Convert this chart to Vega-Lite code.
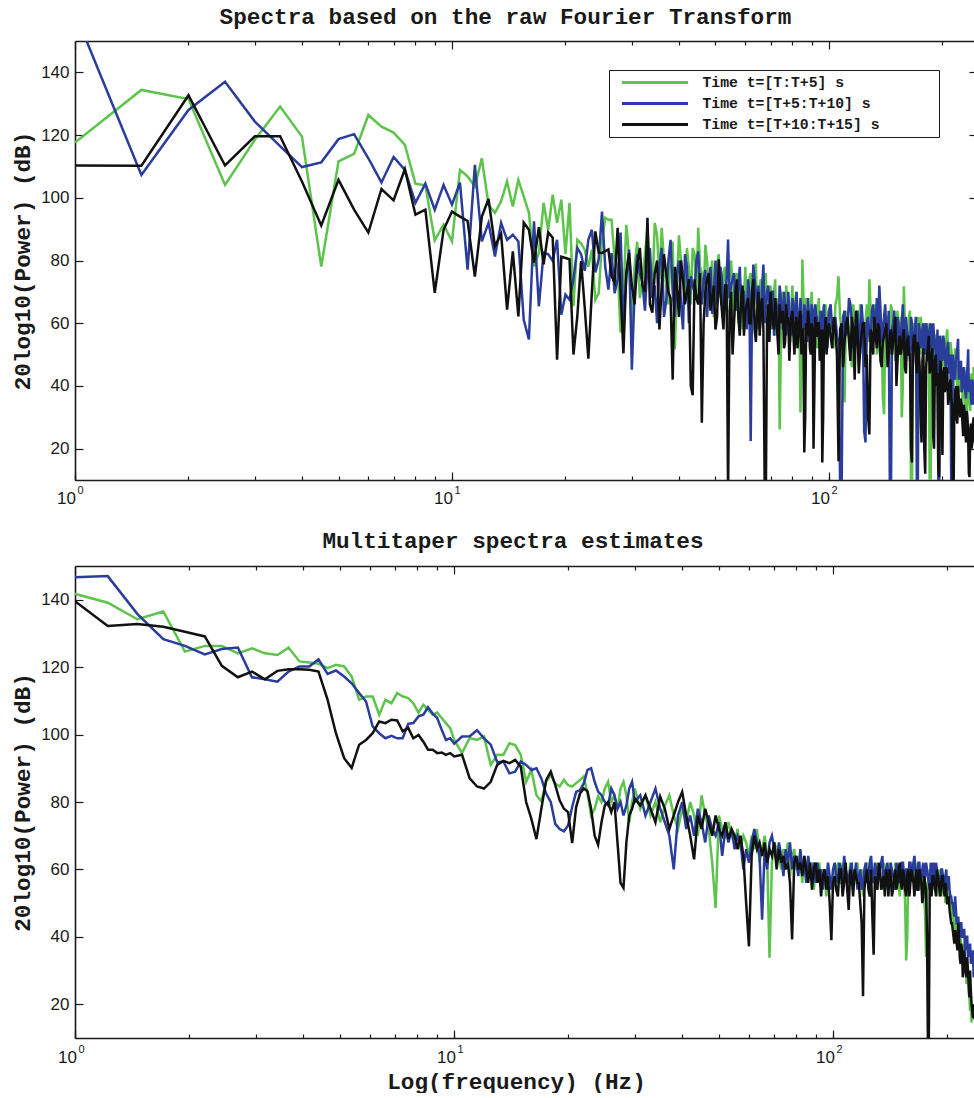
{
  "$schema": "https://vega.github.io/schema/vega-lite/v6.json",
  "background": "white",
  "padding": {"left": 11, "top": 5, "right": 0, "bottom": 0},
  "bounds": "flush",
  "spacing": 86,
  "config": {
    "view": {"stroke": null},
    "font": "Liberation Sans",
    "axis": {
      "grid": false,
      "domainColor": "#1a1a1a",
      "domainWidth": 1.6,
      "tickColor": "#1a1a1a",
      "tickWidth": 1.2,
      "labelFont": "Liberation Sans",
      "labelFontSize": 17,
      "labelColor": "#1a1a1a",
      "labelFlush": false,
      "labelOverlap": false,
      "titleFont": "Liberation Mono",
      "titleFontSize": 22.7,
      "titleFontWeight": "bold",
      "titleColor": "#1a1a1a"
    },
    "title": {
      "font": "Liberation Mono",
      "fontSize": 22.7,
      "fontWeight": "bold",
      "color": "#1a1a1a",
      "anchor": "middle",
      "frame": "group",
      "baseline": "alphabetic"
    }
  },
  "datasets": {
    "raw": [
      {"f":1,"g":117.6,"b":159,"k":110.3},
      {"f":1.5,"g":134.4,"b":107.3,"k":110.2},
      {"f":2,"g":131.5,"b":128,"k":132.7},
      {"f":2.5,"g":104.1,"b":137,"k":110.3},
      {"f":3,"g":118.5,"b":124.3,"k":119.6},
      {"f":3.5,"g":129.1,"b":116.5,"k":119.6},
      {"f":4,"g":119.5,"b":109.8,"k":105.2},
      {"f":4.5,"g":78.1,"b":111.3,"k":91.2},
      {"f":5,"g":111.6,"b":118.7,"k":105.7},
      {"f":5.5,"g":114,"b":120.3,"k":96.2},
      {"f":6,"g":126.4,"b":112.6,"k":88.9},
      {"f":6.5,"g":122.7,"b":104.9,"k":102.8},
      {"f":7,"g":120.8,"b":113,"k":99.2},
      {"f":7.5,"g":116.9,"b":108.9,"k":109.1},
      {"f":8,"g":104.5,"b":98.4,"k":94.6},
      {"f":8.5,"g":104,"b":104.5,"k":96.2},
      {"f":9,"g":86.4,"b":96.2,"k":69.7},
      {"f":9.5,"g":91.4,"b":104.1,"k":89.8},
      {"f":10,"g":86.1,"b":97.8,"k":95.6},
      {"f":10.5,"g":108.9,"b":104.8,"k":94},
      {"f":11,"g":106.8,"b":77.1,"k":92.6},
      {"f":11.5,"g":103.6,"b":110.5,"k":74.9},
      {"f":12,"g":112.6,"b":86.1,"k":94},
      {"f":12.5,"g":97.8,"b":92,"k":99.6},
      {"f":13,"g":95.2,"b":81.3,"k":84.5},
      {"f":13.5,"g":98.9,"b":92,"k":88.5},
      {"f":14,"g":105.2,"b":86.6,"k":64.3},
      {"f":14.5,"g":97.2,"b":88.2,"k":82.9},
      {"f":15,"g":105.7,"b":86.1,"k":62.2},
      {"f":15.5,"g":100.4,"b":61.1,"k":92.1},
      {"f":16,"g":95.2,"b":54.8,"k":89.8},
      {"f":16.5,"g":78.1,"b":92.5,"k":79.3},
      {"f":17,"g":82.4,"b":65.4,"k":90.6},
      {"f":17.5,"g":98.4,"b":82.5,"k":78.8},
      {"f":18,"g":89.8,"b":82,"k":89},
      {"f":18.5,"g":101,"b":79.9,"k":87.3},
      {"f":19,"g":92,"b":86.6,"k":48.4},
      {"f":19.5,"g":99.4,"b":62.7,"k":81.2},
      {"f":20,"g":82,"b":69.1,"k":80.8},
      {"f":20.5,"g":98.4,"b":67.5,"k":80.4},
      {"f":21,"g":65.4,"b":74,"k":50},
      {"f":21.5,"g":86.6,"b":84,"k":62.2},
      {"f":22,"g":85.5,"b":82,"k":79.8},
      {"f":22.5,"g":83.4,"b":76.7,"k":65},
      {"f":23,"g":78,"b":86.6,"k":48.7},
      {"f":23.5,"g":83.4,"b":89.8,"k":70},
      {"f":24,"g":67.5,"b":76.2,"k":89.3},
      {"f":24.5,"g":69.6,"b":80.4,"k":82.5},
      {"f":25,"g":86,"b":95.6,"k":82.4},
      {"f":25.5,"g":93.6,"b":78,"k":83},
      {"f":26,"g":93,"b":70.7,"k":83.5},
      {"f":26.5,"g":93,"b":82.4,"k":75},
      {"f":27,"g":80.4,"b":69.6,"k":73},
      {"f":27.5,"g":78,"b":74,"k":90.4},
      {"f":28,"g":57,"b":88.9,"k":70},
      {"f":28.5,"g":69.6,"b":59,"k":50.4},
      {"f":29,"g":91.4,"b":75,"k":76},
      {"f":29.5,"g":81.3,"b":83.5,"k":82.4},
      {"f":30,"g":57,"b":45.2,"k":72},
      {"f":30.5,"g":78,"b":70,"k":66},
      {"f":31,"g":86,"b":82,"k":78.8},
      {"f":31.5,"g":68,"b":76,"k":84},
      {"f":32,"g":74,"b":73,"k":72},
      {"f":32.5,"g":82,"b":64,"k":70},
      {"f":33,"g":90,"b":79,"k":93.6},
      {"f":33.5,"g":76,"b":84,"k":66},
      {"f":34,"g":70,"b":68,"k":63.4},
      {"f":34.5,"g":92,"b":72,"k":76},
      {"f":35,"g":88,"b":60,"k":80},
      {"f":35.5,"g":74,"b":78,"k":58},
      {"f":36,"g":90.4,"b":84,"k":72},
      {"f":36.5,"g":80,"b":62,"k":82},
      {"f":37,"g":72,"b":67,"k":76},
      {"f":37.5,"g":66,"b":80,"k":70},
      {"f":38,"g":84,"b":86.6,"k":68},
      {"f":38.5,"g":86,"b":70,"k":42},
      {"f":39,"g":51.6,"b":62,"k":78},
      {"f":39.5,"g":72,"b":76,"k":72},
      {"f":40,"g":88,"b":80,"k":62},
      {"f":40.5,"g":80,"b":66,"k":80},
      {"f":41,"g":74,"b":58,"k":74},
      {"f":41.5,"g":68,"b":82,"k":66},
      {"f":42,"g":84,"b":78,"k":70},
      {"f":42.5,"g":78,"b":60,"k":74},
      {"f":43,"g":66,"b":75,"k":40},
      {"f":43.5,"g":84,"b":72,"k":37},
      {"f":44,"g":82,"b":70,"k":74},
      {"f":44.5,"g":70,"b":80,"k":68},
      {"f":45,"g":90.4,"b":82.9,"k":66},
      {"f":45.5,"g":78,"b":70,"k":76},
      {"f":46,"g":76,"b":66,"k":28.3},
      {"f":46.5,"g":68,"b":74,"k":60},
      {"f":47,"g":85,"b":77,"k":70},
      {"f":47.5,"g":80,"b":62,"k":74},
      {"f":48,"g":70,"b":72,"k":76},
      {"f":48.5,"g":74,"b":78,"k":64},
      {"f":49,"g":80,"b":63,"k":68},
      {"f":49.5,"g":62,"b":70,"k":72},
      {"f":50,"g":74,"b":80,"k":58},
      {"f":50.5,"g":78,"b":66,"k":62},
      {"f":51,"g":82,"b":70,"k":80.4},
      {"f":51.5,"g":70,"b":78,"k":70},
      {"f":52,"g":66,"b":74,"k":64},
      {"f":52.5,"g":76,"b":62,"k":58},
      {"f":53,"g":78,"b":68,"k":72},
      {"f":53.5,"g":64,"b":74,"k":72},
      {"f":54,"g":70,"b":86.7,"k":5},
      {"f":54.5,"g":76,"b":68,"k":64},
      {"f":55,"g":80,"b":72,"k":70},
      {"f":55.5,"g":70,"b":74,"k":50},
      {"f":56,"g":62,"b":76,"k":60},
      {"f":56.5,"g":74,"b":64,"k":70},
      {"f":57,"g":76,"b":66,"k":74},
      {"f":57.5,"g":60,"b":72,"k":62},
      {"f":58,"g":72,"b":78,"k":56},
      {"f":58.5,"g":72,"b":66,"k":68},
      {"f":59,"g":58,"b":70,"k":72},
      {"f":59.5,"g":68,"b":70,"k":56},
      {"f":60,"g":78,"b":62,"k":64},
      {"f":60.5,"g":64,"b":58,"k":66},
      {"f":61,"g":70,"b":74,"k":68},
      {"f":61.5,"g":74,"b":70,"k":60},
      {"f":62,"g":76,"b":22.4,"k":60},
      {"f":62.5,"g":66,"b":64,"k":70},
      {"f":63,"g":66,"b":78.7,"k":74},
      {"f":63.5,"g":70,"b":74,"k":58},
      {"f":64,"g":79,"b":70,"k":54},
      {"f":64.5,"g":58,"b":66,"k":64},
      {"f":65,"g":60,"b":72,"k":70},
      {"f":65.5,"g":72,"b":58,"k":56},
      {"f":66,"g":74,"b":62,"k":66},
      {"f":66.5,"g":64,"b":72,"k":68},
      {"f":67,"g":68,"b":78.7,"k":58},
      {"f":67.5,"g":70,"b":60,"k":10},
      {"f":68,"g":76,"b":66,"k":3},
      {"f":68.5,"g":60,"b":70,"k":60},
      {"f":69,"g":64,"b":72,"k":66},
      {"f":69.5,"g":68,"b":64,"k":54},
      {"f":70,"g":72,"b":58,"k":70},
      {"f":70.5,"g":62,"b":70,"k":64},
      {"f":71,"g":58,"b":70,"k":60},
      {"f":71.5,"g":70,"b":56,"k":58},
      {"f":72,"g":74,"b":68,"k":68},
      {"f":72.5,"g":56,"b":66,"k":62},
      {"f":73,"g":66,"b":60,"k":56},
      {"f":73.5,"g":68,"b":62,"k":50},
      {"f":74,"g":26.1,"b":72,"k":66},
      {"f":74.5,"g":50,"b":68,"k":60},
      {"f":75,"g":70,"b":64,"k":62},
      {"f":75.5,"g":66,"b":58,"k":64},
      {"f":76,"g":62,"b":70,"k":52},
      {"f":76.5,"g":58,"b":66,"k":54},
      {"f":77,"g":72,"b":56,"k":66},
      {"f":77.5,"g":68,"b":60,"k":60},
      {"f":78,"g":66,"b":70,"k":62},
      {"f":78.5,"g":62,"b":64,"k":48},
      {"f":79,"g":54,"b":62,"k":58},
      {"f":79.5,"g":66,"b":56,"k":62},
      {"f":80,"g":72,"b":68,"k":64},
      {"f":80.5,"g":56,"b":66,"k":56},
      {"f":81,"g":64,"b":58,"k":50},
      {"f":81.5,"g":68,"b":60,"k":60},
      {"f":82,"g":70,"b":70,"k":62},
      {"f":82.5,"g":60,"b":64,"k":52},
      {"f":83,"g":58,"b":62,"k":56},
      {"f":83.5,"g":64,"b":56,"k":62},
      {"f":84,"g":31.5,"b":68,"k":64},
      {"f":84.5,"g":48,"b":62,"k":50},
      {"f":85,"g":80.3,"b":60,"k":58},
      {"f":85.5,"g":70,"b":58,"k":58},
      {"f":86,"g":60,"b":66,"k":18.8},
      {"f":86.5,"g":58,"b":64,"k":30},
      {"f":87,"g":68,"b":56,"k":60},
      {"f":87.5,"g":64,"b":54,"k":56},
      {"f":88,"g":62,"b":68,"k":64},
      {"f":88.5,"g":56,"b":62,"k":60},
      {"f":89,"g":56,"b":60,"k":52},
      {"f":89.5,"g":66,"b":58,"k":50},
      {"f":90,"g":70,"b":66,"k":60},
      {"f":90.5,"g":58,"b":64,"k":58},
      {"f":91,"g":60,"b":52,"k":20},
      {"f":91.5,"g":62,"b":56,"k":40},
      {"f":92,"g":66,"b":66,"k":62},
      {"f":92.5,"g":54,"b":62,"k":56},
      {"f":93,"g":52,"b":62,"k":56},
      {"f":93.5,"g":64,"b":58,"k":60},
      {"f":94,"g":68,"b":58,"k":60},
      {"f":94.5,"g":56,"b":52,"k":48},
      {"f":95,"g":58,"b":64,"k":50},
      {"f":95.5,"g":62,"b":60,"k":58},
      {"f":96,"g":64,"b":56,"k":15.6},
      {"f":96.5,"g":52,"b":62,"k":30},
      {"f":97,"g":54,"b":66,"k":58},
      {"f":97.5,"g":62,"b":56,"k":56},
      {"f":98,"g":66,"b":60,"k":62},
      {"f":98.5,"g":58,"b":62,"k":50},
      {"f":99,"g":60,"b":52,"k":54},
      {"f":99.5,"g":62,"b":56,"k":58},
      {"f":100,"g":64,"b":64,"k":60},
      {"f":101,"g":60,"b":66,"k":56},
      {"f":102,"g":56,"b":58,"k":52},
      {"f":103,"g":52,"b":60,"k":62},
      {"f":104,"g":66,"b":62,"k":58},
      {"f":105,"g":68,"b":56,"k":50},
      {"f":106,"g":75,"b":54,"k":16},
      {"f":107,"g":62,"b":10,"k":58},
      {"f":108,"g":58,"b":4,"k":60},
      {"f":109,"g":50,"b":62,"k":46},
      {"f":110,"g":34.7,"b":64,"k":54},
      {"f":111,"g":64,"b":56,"k":60},
      {"f":112,"g":62,"b":58,"k":62},
      {"f":113,"g":58,"b":68,"k":54},
      {"f":114,"g":54,"b":66,"k":48},
      {"f":115,"g":46,"b":60,"k":62},
      {"f":116,"g":66,"b":52,"k":58},
      {"f":117,"g":62,"b":56,"k":42},
      {"f":118,"g":60,"b":62,"k":64},
      {"f":119,"g":56,"b":64,"k":58},
      {"f":120,"g":48,"b":58,"k":44},
      {"f":121,"g":66,"b":50,"k":52},
      {"f":122,"g":64,"b":66,"k":56},
      {"f":123,"g":52,"b":60,"k":60},
      {"f":124,"g":58,"b":25.6,"k":60},
      {"f":125,"g":60,"b":22,"k":46},
      {"f":126,"g":66,"b":60,"k":50},
      {"f":127,"g":54,"b":62,"k":30},
      {"f":128,"g":74,"b":56,"k":24.5},
      {"f":129,"g":64,"b":54,"k":58},
      {"f":130,"g":56,"b":64,"k":56},
      {"f":131,"g":58,"b":66,"k":50},
      {"f":132,"g":62,"b":58,"k":62},
      {"f":133,"g":66,"b":60,"k":56},
      {"f":134,"g":50,"b":68,"k":52},
      {"f":135,"g":52,"b":56,"k":60},
      {"f":136,"g":64,"b":72,"k":58},
      {"f":137,"g":60,"b":64,"k":48},
      {"f":138,"g":56,"b":54,"k":46},
      {"f":139,"g":36,"b":58,"k":54},
      {"f":140,"g":31,"b":62,"k":56},
      {"f":141,"g":56,"b":66,"k":58},
      {"f":142,"g":62,"b":56,"k":60},
      {"f":143,"g":62,"b":52,"k":46},
      {"f":144,"g":54,"b":64,"k":50},
      {"f":145,"g":50,"b":10,"k":56},
      {"f":146,"g":66,"b":3,"k":58},
      {"f":147,"g":64,"b":58,"k":50},
      {"f":148,"g":58,"b":60,"k":54},
      {"f":149,"g":56,"b":64,"k":58},
      {"f":150,"g":48,"b":56,"k":62},
      {"f":151,"g":60,"b":54,"k":40},
      {"f":152,"g":64,"b":62,"k":48},
      {"f":153,"g":52,"b":60,"k":54},
      {"f":154,"g":56,"b":50,"k":56},
      {"f":155,"g":62,"b":56,"k":50},
      {"f":156,"g":30,"b":60,"k":52},
      {"f":157,"g":40,"b":66,"k":56},
      {"f":158,"g":71.8,"b":54,"k":58},
      {"f":159,"g":60,"b":50,"k":46},
      {"f":160,"g":58,"b":62,"k":44},
      {"f":161,"g":56,"b":58,"k":54},
      {"f":162,"g":52,"b":56,"k":56},
      {"f":163,"g":62,"b":54,"k":50},
      {"f":164,"g":64,"b":48,"k":50},
      {"f":165,"g":10,"b":62,"k":20},
      {"f":166,"g":2,"b":60,"k":15.6},
      {"f":167,"g":58,"b":50,"k":52},
      {"f":168,"g":60,"b":54,"k":56},
      {"f":169,"g":52,"b":58,"k":56},
      {"f":170,"g":54,"b":62,"k":48},
      {"f":171,"g":60,"b":10,"k":44},
      {"f":172,"g":62,"b":3,"k":54},
      {"f":173,"g":56,"b":60,"k":52},
      {"f":174,"g":50,"b":58,"k":46},
      {"f":175,"g":62,"b":54,"k":30},
      {"f":176,"g":58,"b":52,"k":22},
      {"f":177,"g":50,"b":58,"k":48},
      {"f":178,"g":52,"b":60,"k":52},
      {"f":179,"g":58,"b":52,"k":20},
      {"f":180,"g":60,"b":50,"k":12},
      {"f":181,"g":54,"b":60,"k":46},
      {"f":182,"g":48,"b":58,"k":50},
      {"f":183,"g":60,"b":48,"k":52},
      {"f":184,"g":56,"b":52,"k":56},
      {"f":185,"g":8,"b":58,"k":44},
      {"f":186,"g":3,"b":60,"k":46},
      {"f":187,"g":54,"b":52,"k":50},
      {"f":188,"g":58,"b":48,"k":52},
      {"f":189,"g":58,"b":60,"k":24},
      {"f":190,"g":50,"b":56,"k":20},
      {"f":191,"g":48,"b":54,"k":48},
      {"f":192,"g":56,"b":50,"k":50},
      {"f":193,"g":56,"b":46,"k":40},
      {"f":194,"g":46,"b":58,"k":44},
      {"f":195,"g":50,"b":10,"k":14},
      {"f":196,"g":54,"b":2,"k":11},
      {"f":197,"g":52,"b":56,"k":46},
      {"f":198,"g":50,"b":54,"k":48},
      {"f":199,"g":46,"b":50,"k":30},
      {"f":200,"g":56,"b":48,"k":18},
      {"f":201,"g":54,"b":56,"k":44},
      {"f":202,"g":44,"b":54,"k":46},
      {"f":203,"g":48,"b":50,"k":38},
      {"f":204,"g":52,"b":46,"k":40},
      {"f":205,"g":56,"b":48,"k":46},
      {"f":206,"g":58,"b":52,"k":44},
      {"f":207,"g":50,"b":54,"k":34},
      {"f":208,"g":46,"b":44,"k":36},
      {"f":209,"g":44,"b":46,"k":40},
      {"f":210,"g":54,"b":50,"k":42},
      {"f":211,"g":52,"b":8,"k":36},
      {"f":212,"g":48,"b":3,"k":34},
      {"f":213,"g":46,"b":50,"k":8},
      {"f":214,"g":40,"b":46,"k":3},
      {"f":215,"g":42,"b":44,"k":32},
      {"f":216,"g":52,"b":42,"k":38},
      {"f":217,"g":50,"b":48,"k":40},
      {"f":218,"g":46,"b":50,"k":30},
      {"f":219,"g":40,"b":52,"k":28},
      {"f":220,"g":38,"b":55,"k":40},
      {"f":221,"g":46,"b":42,"k":36},
      {"f":222,"g":48,"b":44,"k":32},
      {"f":223,"g":38,"b":46,"k":30},
      {"f":224,"g":42,"b":48,"k":36},
      {"f":225,"g":44,"b":38,"k":34},
      {"f":226,"g":36,"b":40,"k":28},
      {"f":227,"g":40,"b":44,"k":24},
      {"f":228,"g":46,"b":46,"k":34},
      {"f":229,"g":34,"b":40,"k":32},
      {"f":230,"g":40,"b":38,"k":26},
      {"f":231,"g":42,"b":36,"k":22},
      {"f":232,"g":30,"b":44,"k":32},
      {"f":233,"g":36,"b":46,"k":30},
      {"f":234,"g":44,"b":51.7,"k":24},
      {"f":235,"g":40,"b":38,"k":12},
      {"f":236,"g":36,"b":40,"k":11},
      {"f":237,"g":32,"b":42,"k":26},
      {"f":238,"g":42,"b":36,"k":28},
      {"f":239,"g":44,"b":34,"k":20},
      {"f":240,"g":38,"b":42,"k":22},
      {"f":241,"g":36,"b":40,"k":28},
      {"f":242,"g":46,"b":34,"k":30},
      {"f":243,"g":42,"b":36,"k":22},
      {"f":244,"g":40,"b":38,"k":24}
    ],
    "mt": [
      {"f":0.98,"g":142,"b":146.6,"k":140.3},
      {"f":1.22,"g":139.1,"b":147,"k":132.2},
      {"f":1.46,"g":134.2,"b":135.8,"k":132.8},
      {"f":1.71,"g":136.5,"b":128.3,"k":132},
      {"f":1.95,"g":124.6,"b":126.3,"k":130.5},
      {"f":2.2,"g":126.3,"b":123.8,"k":129.1},
      {"f":2.44,"g":126.3,"b":125.4,"k":120.4},
      {"f":2.69,"g":124.1,"b":125.8,"k":117},
      {"f":2.93,"g":125.6,"b":117,"k":118.7},
      {"f":3.17,"g":124.1,"b":116.4,"k":116.4},
      {"f":3.42,"g":123.6,"b":115.7,"k":118.9},
      {"f":3.66,"g":125.8,"b":118.7,"k":119.4},
      {"f":3.91,"g":121.7,"b":120.2,"k":119.4},
      {"f":4.15,"g":121.4,"b":120.2,"k":119.2},
      {"f":4.39,"g":121,"b":122.3,"k":118.7},
      {"f":4.64,"g":119.7,"b":118,"k":110.3},
      {"f":4.88,"g":120.7,"b":119,"k":100.4},
      {"f":5.13,"g":120.2,"b":117.2,"k":93},
      {"f":5.37,"g":117.2,"b":115.2,"k":90.1},
      {"f":5.62,"g":110.3,"b":112.3,"k":97},
      {"f":5.86,"g":111.3,"b":109.8,"k":98.4},
      {"f":6.1,"g":111.3,"b":102.4,"k":100.4},
      {"f":6.35,"g":105.9,"b":100.4,"k":103.9},
      {"f":6.59,"g":110.3,"b":98.9,"k":103.4},
      {"f":6.84,"g":109.3,"b":99.6,"k":104.4},
      {"f":7.08,"g":112.3,"b":98.9,"k":104.2},
      {"f":7.32,"g":111.3,"b":98.9,"k":101},
      {"f":7.57,"g":110.8,"b":103.2,"k":102},
      {"f":7.81,"g":109.3,"b":103.4,"k":98.9},
      {"f":8.06,"g":106.5,"b":105.4,"k":99.9},
      {"f":8.3,"g":108.8,"b":105.9,"k":97.9},
      {"f":8.54,"g":107.3,"b":108.1,"k":95.5},
      {"f":8.79,"g":105.9,"b":106.2,"k":95.5},
      {"f":9.03,"g":106.5,"b":104.9,"k":94.5},
      {"f":9.28,"g":104.9,"b":101.4,"k":94.7},
      {"f":9.52,"g":103.4,"b":98.4,"k":94},
      {"f":9.77,"g":101.9,"b":98.9,"k":94.5},
      {"f":10.01,"g":98.4,"b":97.3,"k":93.5},
      {"f":10.5,"g":94.5,"b":99.4,"k":94},
      {"f":11,"g":99,"b":99.5,"k":87},
      {"f":11.5,"g":98.4,"b":101.3,"k":84.6},
      {"f":12,"g":99.4,"b":98.9,"k":84},
      {"f":12.5,"g":91,"b":97,"k":86},
      {"f":13,"g":94,"b":91.8,"k":91},
      {"f":13.5,"g":94,"b":92,"k":92.2},
      {"f":14,"g":97.4,"b":88.5,"k":91.5},
      {"f":14.5,"g":96.9,"b":89,"k":92.5},
      {"f":15,"g":94,"b":92,"k":90.5},
      {"f":15.5,"g":86,"b":91,"k":80},
      {"f":16,"g":89.5,"b":89.5,"k":75},
      {"f":16.5,"g":82,"b":90,"k":69},
      {"f":17,"g":80.2,"b":87,"k":78},
      {"f":17.5,"g":86,"b":82.5,"k":86.5},
      {"f":18,"g":88,"b":80,"k":89},
      {"f":18.5,"g":85.5,"b":73.5,"k":85},
      {"f":19,"g":84.6,"b":72,"k":80.5},
      {"f":19.5,"g":86.6,"b":71.3,"k":78},
      {"f":20,"g":85,"b":73,"k":77},
      {"f":20.5,"g":84.6,"b":78.5,"k":67.8},
      {"f":21,"g":85.6,"b":83,"k":78.5},
      {"f":21.5,"g":86.5,"b":83.5,"k":82.5},
      {"f":22,"g":87.6,"b":85.5,"k":84},
      {"f":22.5,"g":82.5,"b":89.5,"k":83.2},
      {"f":23,"g":76,"b":90,"k":78},
      {"f":23.5,"g":78,"b":86,"k":70},
      {"f":24,"g":81.7,"b":83.1,"k":67.3},
      {"f":24.5,"g":80,"b":82,"k":74},
      {"f":25,"g":84,"b":80,"k":79},
      {"f":25.5,"g":86,"b":79,"k":80},
      {"f":26,"g":80,"b":84,"k":77},
      {"f":26.5,"g":82,"b":82,"k":80},
      {"f":27,"g":78,"b":78,"k":68},
      {"f":27.5,"g":84,"b":80,"k":56},
      {"f":28,"g":86,"b":76,"k":54.5},
      {"f":28.5,"g":82,"b":79,"k":68},
      {"f":29,"g":74,"b":84,"k":76},
      {"f":29.5,"g":80,"b":86,"k":78},
      {"f":30,"g":84,"b":80,"k":81},
      {"f":31,"g":78,"b":82,"k":79},
      {"f":32,"g":82,"b":76,"k":82},
      {"f":33,"g":76,"b":80,"k":78},
      {"f":34,"g":80,"b":84,"k":74},
      {"f":35,"g":74,"b":78,"k":81.6},
      {"f":36,"g":79,"b":74,"k":78},
      {"f":37,"g":82,"b":70,"k":72},
      {"f":38,"g":76,"b":60,"k":76},
      {"f":39,"g":72,"b":76,"k":80},
      {"f":40,"g":78,"b":80,"k":83},
      {"f":41,"g":74,"b":72,"k":76},
      {"f":42,"g":80,"b":76,"k":70},
      {"f":43,"g":76,"b":70,"k":63},
      {"f":44,"g":70,"b":78,"k":76},
      {"f":45,"g":82,"b":74,"k":72},
      {"f":46,"g":76,"b":68,"k":78},
      {"f":47,"g":72,"b":76,"k":74},
      {"f":48,"g":62,"b":72,"k":70},
      {"f":49,"g":48.6,"b":70,"k":76},
      {"f":50,"g":76,"b":74,"k":72},
      {"f":51,"g":72,"b":64,"k":70},
      {"f":52,"g":70,"b":72,"k":74},
      {"f":53,"g":74,"b":68,"k":69},
      {"f":54,"g":70,"b":72,"k":72},
      {"f":55,"g":68,"b":66,"k":70},
      {"f":56,"g":72,"b":70,"k":66},
      {"f":57,"g":66,"b":68,"k":70},
      {"f":58,"g":70,"b":60,"k":64},
      {"f":59,"g":68,"b":66,"k":50},
      {"f":60,"g":64,"b":62,"k":37.2},
      {"f":61,"g":70,"b":68,"k":64},
      {"f":62,"g":66,"b":72,"k":70},
      {"f":63,"g":72,"b":68,"k":66},
      {"f":64,"g":62,"b":64,"k":68},
      {"f":65,"g":66,"b":45.1,"k":64},
      {"f":66,"g":70,"b":66,"k":68},
      {"f":67,"g":64,"b":60,"k":62},
      {"f":68,"g":33.8,"b":68,"k":66},
      {"f":69,"g":62,"b":70,"k":64},
      {"f":70,"g":68,"b":66,"k":68},
      {"f":71,"g":66,"b":62,"k":60},
      {"f":72,"g":64,"b":68,"k":66},
      {"f":73,"g":60,"b":64,"k":62},
      {"f":74,"g":66,"b":58,"k":64},
      {"f":75,"g":62,"b":66,"k":60},
      {"f":76,"g":68,"b":62,"k":62},
      {"f":77,"g":58,"b":68,"k":56},
      {"f":78,"g":64,"b":60,"k":39.2},
      {"f":79,"g":66,"b":64,"k":62},
      {"f":80,"g":60,"b":62,"k":64},
      {"f":81,"g":64,"b":58,"k":60},
      {"f":82,"g":62,"b":66,"k":62},
      {"f":83,"g":56,"b":60,"k":58},
      {"f":84,"g":64,"b":62,"k":64},
      {"f":85,"g":60,"b":56,"k":60},
      {"f":86,"g":62,"b":64,"k":56},
      {"f":87,"g":58,"b":60,"k":62},
      {"f":88,"g":62,"b":58,"k":54},
      {"f":89,"g":54,"b":62,"k":60},
      {"f":90,"g":60,"b":56,"k":62},
      {"f":91,"g":58,"b":62,"k":56},
      {"f":92,"g":62,"b":58,"k":60},
      {"f":93,"g":56,"b":60,"k":52},
      {"f":94,"g":60,"b":54,"k":58},
      {"f":95,"g":58,"b":60,"k":60},
      {"f":96,"g":52,"b":56,"k":54},
      {"f":97,"g":60,"b":62,"k":58},
      {"f":98,"g":56,"b":58,"k":50},
      {"f":99,"g":58,"b":54,"k":39},
      {"f":100,"g":54,"b":60,"k":56},
      {"f":101,"g":58,"b":62,"k":58},
      {"f":102,"g":60,"b":58,"k":54},
      {"f":103,"g":62,"b":56,"k":52},
      {"f":104,"g":56,"b":62,"k":60},
      {"f":105,"g":56,"b":60,"k":60},
      {"f":106,"g":62,"b":56,"k":52},
      {"f":107,"g":60,"b":64,"k":56},
      {"f":108,"g":58,"b":60,"k":62},
      {"f":109,"g":58,"b":58,"k":54},
      {"f":110,"g":54,"b":56,"k":48},
      {"f":111,"g":62,"b":60,"k":60},
      {"f":112,"g":60,"b":62,"k":58},
      {"f":113,"g":54,"b":56,"k":52},
      {"f":114,"g":56,"b":58,"k":60},
      {"f":115,"g":60,"b":62,"k":58},
      {"f":116,"g":62,"b":54,"k":56},
      {"f":117,"g":56,"b":58,"k":56},
      {"f":118,"g":58,"b":60,"k":50},
      {"f":119,"g":60,"b":54,"k":44},
      {"f":120,"g":52,"b":56,"k":22.4},
      {"f":121,"g":58,"b":60,"k":54},
      {"f":122,"g":60,"b":62,"k":58},
      {"f":123,"g":62,"b":56,"k":60},
      {"f":124,"g":56,"b":58,"k":54},
      {"f":125,"g":54,"b":62,"k":52},
      {"f":126,"g":62,"b":64,"k":60},
      {"f":127,"g":60,"b":58,"k":46},
      {"f":128,"g":58,"b":56,"k":34.7},
      {"f":129,"g":56,"b":62,"k":58},
      {"f":130,"g":54,"b":60,"k":56},
      {"f":131,"g":62,"b":56,"k":54},
      {"f":132,"g":60,"b":58,"k":62},
      {"f":133,"g":58,"b":60,"k":60},
      {"f":134,"g":56,"b":62,"k":54},
      {"f":135,"g":54,"b":64,"k":56},
      {"f":136,"g":62,"b":56,"k":58},
      {"f":137,"g":60,"b":58,"k":52},
      {"f":138,"g":58,"b":60,"k":60},
      {"f":139,"g":56,"b":62,"k":58},
      {"f":140,"g":54,"b":58,"k":52},
      {"f":141,"g":62,"b":56,"k":60},
      {"f":142,"g":60,"b":62,"k":58},
      {"f":143,"g":58,"b":60,"k":52},
      {"f":144,"g":56,"b":58,"k":54},
      {"f":145,"g":54,"b":58,"k":58},
      {"f":146,"g":62,"b":54,"k":60},
      {"f":147,"g":60,"b":62,"k":54},
      {"f":148,"g":58,"b":60,"k":56},
      {"f":149,"g":56,"b":56,"k":60},
      {"f":150,"g":52,"b":58,"k":62},
      {"f":151,"g":62,"b":60,"k":56},
      {"f":152,"g":60,"b":62,"k":54},
      {"f":153,"g":58,"b":62,"k":60},
      {"f":154,"g":56,"b":58,"k":58},
      {"f":155,"g":50,"b":56,"k":54},
      {"f":156,"g":33,"b":60,"k":52},
      {"f":157,"g":40,"b":60,"k":58},
      {"f":158,"g":60,"b":56,"k":60},
      {"f":159,"g":58,"b":62,"k":52},
      {"f":160,"g":56,"b":62,"k":56},
      {"f":161,"g":60,"b":58,"k":60},
      {"f":162,"g":62,"b":58,"k":58},
      {"f":163,"g":56,"b":62,"k":56},
      {"f":164,"g":58,"b":64,"k":52},
      {"f":165,"g":62,"b":60,"k":58},
      {"f":166,"g":54,"b":58,"k":60},
      {"f":167,"g":58,"b":56,"k":54},
      {"f":168,"g":60,"b":62,"k":54},
      {"f":169,"g":54,"b":62,"k":60},
      {"f":170,"g":56,"b":56,"k":58},
      {"f":171,"g":60,"b":58,"k":56},
      {"f":172,"g":58,"b":60,"k":50},
      {"f":173,"g":56,"b":62,"k":52},
      {"f":174,"g":52,"b":56,"k":58},
      {"f":175,"g":46,"b":58,"k":56},
      {"f":176,"g":34,"b":62,"k":54},
      {"f":177,"g":54,"b":60,"k":40},
      {"f":178,"g":56,"b":58,"k":8},
      {"f":179,"g":58,"b":56,"k":10},
      {"f":180,"g":60,"b":54,"k":56},
      {"f":181,"g":56,"b":62,"k":54},
      {"f":182,"g":54,"b":60,"k":52},
      {"f":183,"g":60,"b":58,"k":58},
      {"f":184,"g":58,"b":62,"k":58},
      {"f":185,"g":54,"b":60,"k":56},
      {"f":186,"g":60,"b":56,"k":54},
      {"f":187,"g":58,"b":62,"k":52},
      {"f":188,"g":56,"b":60,"k":60},
      {"f":189,"g":56,"b":58,"k":58},
      {"f":190,"g":52,"b":58,"k":56},
      {"f":191,"g":60,"b":56,"k":54},
      {"f":192,"g":58,"b":54,"k":52},
      {"f":193,"g":52,"b":60,"k":56},
      {"f":194,"g":54,"b":60,"k":58},
      {"f":195,"g":56,"b":58,"k":58},
      {"f":196,"g":58,"b":56,"k":54},
      {"f":197,"g":54,"b":56,"k":52},
      {"f":198,"g":50,"b":58,"k":56},
      {"f":199,"g":58,"b":60,"k":54},
      {"f":200,"g":56,"b":54,"k":50},
      {"f":201,"g":52,"b":56,"k":50},
      {"f":202,"g":52,"b":58,"k":52},
      {"f":203,"g":50,"b":54,"k":48},
      {"f":204,"g":48,"b":52,"k":46},
      {"f":205,"g":46,"b":52,"k":44},
      {"f":206,"g":50,"b":50,"k":44},
      {"f":207,"g":48,"b":50,"k":42},
      {"f":208,"g":44,"b":48,"k":40},
      {"f":209,"g":42,"b":46,"k":38},
      {"f":210,"g":46,"b":52,"k":42},
      {"f":211,"g":44,"b":48,"k":40},
      {"f":212,"g":40,"b":44,"k":38},
      {"f":213,"g":40,"b":44,"k":36},
      {"f":214,"g":38,"b":46,"k":44},
      {"f":215,"g":36,"b":42,"k":40},
      {"f":216,"g":42,"b":40,"k":34},
      {"f":217,"g":40,"b":44,"k":32},
      {"f":218,"g":36,"b":44,"k":38},
      {"f":219,"g":32,"b":40,"k":36},
      {"f":220,"g":34,"b":40,"k":28},
      {"f":221,"g":36,"b":42,"k":30},
      {"f":222,"g":38,"b":42,"k":36},
      {"f":223,"g":30,"b":36,"k":32},
      {"f":224,"g":32,"b":38,"k":30},
      {"f":225,"g":26,"b":40,"k":28},
      {"f":226,"g":28,"b":40,"k":34},
      {"f":227,"g":30,"b":34,"k":30},
      {"f":228,"g":24,"b":36,"k":26},
      {"f":229,"g":22,"b":36,"k":22},
      {"f":230,"g":18,"b":38,"k":30},
      {"f":231,"g":20,"b":32,"k":24},
      {"f":232,"g":14.6,"b":34,"k":20},
      {"f":233,"g":18,"b":34,"k":18},
      {"f":234,"g":20,"b":36,"k":16},
      {"f":235,"g":16,"b":28,"k":20},
      {"f":236,"g":16,"b":30,"k":15.6}
    ]
  },
  "vconcat": [
    {
      "title": {"text": "Spectra based on the raw Fourier Transform", "dx": -19, "offset": 12},
      "width": 899,
      "height": 439,
      "data": {"name": "raw"},
      "transform": [{"fold": ["g", "b", "k"], "as": ["series", "power"]}],
      "layer": [
        {
          "mark": {"type": "line", "clip": true, "strokeWidth": 2.5},
          "encoding": {
            "x": {"field": "f", "type": "quantitative",
              "scale": {"type": "log", "domain": [1, 242.5], "nice": false},
              "axis": {"orient": "bottom", "values": [1, 10, 100], "tickSize": -8, "labelExpr": "'10'", "labelOffset": -9, "labelBaseline": "alphabetic", "labelPadding": 31, "title": null}},
            "y": {"field": "power", "type": "quantitative",
              "scale": {"domain": [10, 150], "nice": false, "zero": false},
              "axis": {"orient": "left", "values": [20, 40, 60, 80, 100, 120, 140], "tickSize": -8, "labelPadding": 14, "title": "20log10(Power) (dB)", "titlePadding": 6}},
            "color": {"field": "series", "type": "nominal",
              "scale": {"domain": ["g", "b", "k"], "range": ["#5dc44b", "#2b3d9c", "#111111"]},
              "legend": {
                "orient": "none", "legendX": 534, "legendY": 29, "title": null,
                "symbolType": "stroke", "symbolSize": 4356, "symbolStrokeWidth": 3, "symbolOffset": 7.5,
                "clipHeight": 17, "rowPadding": 4, "padding": 4, "labelOffset": 13, "labelLimit": 400,
                "labelFont": "Liberation Mono", "labelFontWeight": "bold", "labelFontSize": 14.75, "labelColor": "#1a1a1a",
                "strokeColor": "#1a1a1a", "fillColor": "white",
                "labelExpr": "datum.label == 'g' ? 'Time t=[T:T+5] s' : datum.label == 'b' ? 'Time t=[T+5:T+10] s' : 'Time t=[T+10:T+15] s\u2800\u2800\u2800\u2800\u2800'"
              }}
          }
        },
        {
          "mark": {"type": "line", "opacity": 0, "clip": true},
          "encoding": {
            "detail": {"field": "series"},
            "x": {"field": "f", "type": "quantitative",
              "axis": {"orient": "bottom", "values": [1, 2, 3, 4, 5, 6, 7, 8, 9, 10, 20, 30, 40, 50, 60, 70, 80, 90, 100, 200], "tickSize": -4, "domain": false, "labelExpr": "datum.value == 1 ? '0' : datum.value == 10 ? '1' : datum.value == 100 ? '2' : ''", "labelFontSize": 11, "labelOffset": 5, "labelBaseline": "alphabetic", "labelPadding": 17, "title": null}},
            "y": {"field": "power", "type": "quantitative",
              "axis": {"orient": "right", "values": [20, 40, 60, 80, 100, 120, 140], "tickSize": -5, "domain": false, "labels": false, "title": null}}
          }
        },
        {
          "mark": {"type": "line", "opacity": 0, "clip": true},
          "encoding": {
            "detail": {"field": "series"},
            "x": {"field": "f", "type": "quantitative",
              "axis": {"orient": "top", "values": [1, 10, 100], "tickSize": -8, "labels": false, "title": null}},
            "y": {"field": "power", "type": "quantitative", "axis": null}
          }
        },
        {
          "mark": {"type": "line", "opacity": 0, "clip": true},
          "encoding": {
            "detail": {"field": "series"},
            "x": {"field": "f", "type": "quantitative",
              "axis": {"orient": "top", "values": [2, 3, 4, 5, 6, 7, 8, 9, 20, 30, 40, 50, 60, 70, 80, 90, 200], "tickSize": -4, "domain": false, "labels": false, "title": null}},
            "y": {"field": "power", "type": "quantitative", "axis": null}
          }
        }
      ],
      "resolve": {"axis": {"x": "independent", "y": "independent"}}
    },
    {
      "title": {"text": "Multitaper spectra estimates", "dx": -11.5, "offset": 13},
      "width": 899,
      "height": 472,
      "data": {"name": "mt"},
      "transform": [{"fold": ["g", "b", "k"], "as": ["series", "power"]}],
      "layer": [
        {
          "mark": {"type": "line", "clip": true, "strokeWidth": 2.5},
          "encoding": {
            "x": {"field": "f", "type": "quantitative",
              "scale": {"type": "log", "domain": [1, 235.5], "nice": false},
              "axis": {"orient": "bottom", "values": [1, 10, 100], "tickSize": -8, "labelExpr": "'10'", "labelOffset": -8, "labelBaseline": "alphabetic", "labelPadding": 32, "title": "Log(frequency) (Hz)", "titleX": 441, "titlePadding": 5}},
            "y": {"field": "power", "type": "quantitative",
              "scale": {"domain": [10, 150], "nice": false, "zero": false},
              "axis": {"orient": "left", "values": [20, 40, 60, 80, 100, 120, 140], "tickSize": -8, "labelPadding": 14, "title": "20log10(Power) (dB)", "titlePadding": 6}},
            "color": {"field": "series", "type": "nominal",
              "scale": {"domain": ["g", "b", "k"], "range": ["#5dc44b", "#2b3d9c", "#111111"]},
              "legend": null}
          }
        },
        {
          "mark": {"type": "line", "opacity": 0, "clip": true},
          "encoding": {
            "detail": {"field": "series"},
            "x": {"field": "f", "type": "quantitative",
              "axis": {"orient": "bottom", "values": [1, 2, 3, 4, 5, 6, 7, 8, 9, 10, 20, 30, 40, 50, 60, 70, 80, 90, 100, 200], "tickSize": -4, "domain": false, "labelExpr": "datum.value == 1 ? '0' : datum.value == 10 ? '1' : datum.value == 100 ? '2' : ''", "labelFontSize": 11, "labelOffset": 6, "labelBaseline": "alphabetic", "labelPadding": 18, "title": null}},
            "y": {"field": "power", "type": "quantitative", "axis": null}
          }
        },
        {
          "mark": {"type": "line", "opacity": 0, "clip": true},
          "encoding": {
            "detail": {"field": "series"},
            "x": {"field": "f", "type": "quantitative",
              "axis": {"orient": "top", "values": [1, 10, 100], "tickSize": -8, "labels": false, "title": null}},
            "y": {"field": "power", "type": "quantitative", "axis": null}
          }
        },
        {
          "mark": {"type": "line", "opacity": 0, "clip": true},
          "encoding": {
            "detail": {"field": "series"},
            "x": {"field": "f", "type": "quantitative",
              "axis": {"orient": "top", "values": [2, 3, 4, 5, 6, 7, 8, 9, 20, 30, 40, 50, 60, 70, 80, 90, 200], "tickSize": -4, "domain": false, "labels": false, "title": null}},
            "y": {"field": "power", "type": "quantitative", "axis": null}
          }
        }
      ],
      "resolve": {"axis": {"x": "independent", "y": "independent"}}
    }
  ],
  "resolve": {"scale": {"color": "independent"}, "legend": {"color": "independent"}}
}
